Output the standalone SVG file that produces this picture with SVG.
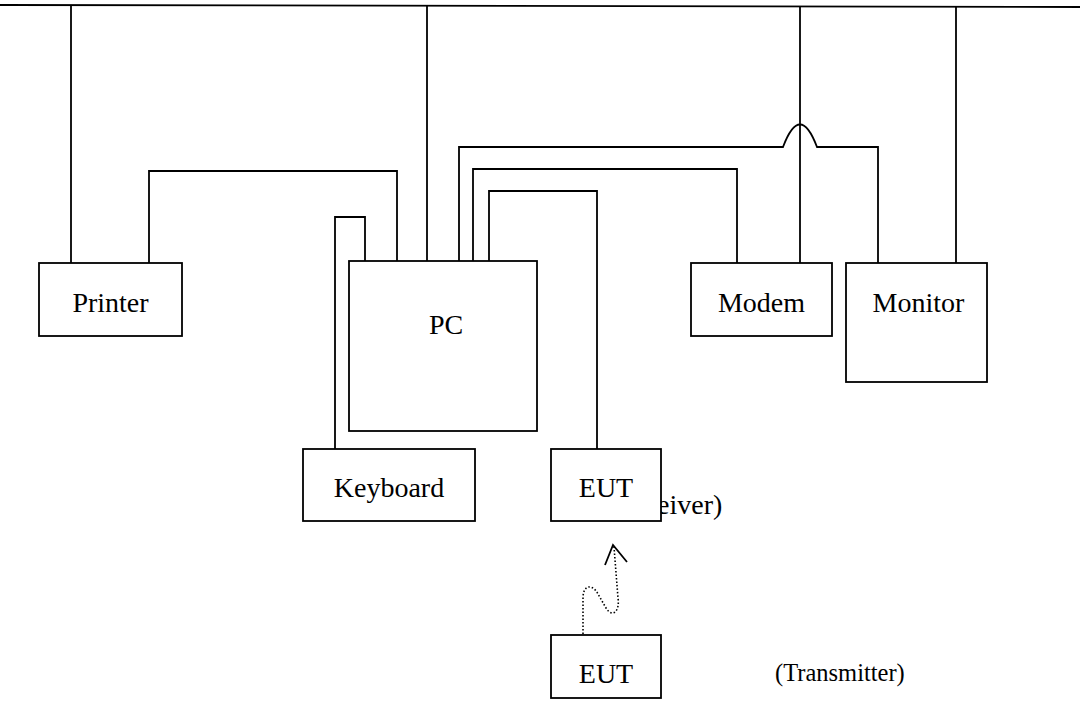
<svg xmlns="http://www.w3.org/2000/svg" width="1080" height="709" viewBox="0 0 1080 709">
<style>
.box{fill:#fff;stroke:#000;stroke-width:1.8}
.ln{fill:none;stroke:#000;stroke-width:1.8}
.lbl{font-family:"Liberation Serif","Times New Roman",serif;font-size:28px;fill:#000}
.dot{fill:none;stroke:#000;stroke-width:1.6;stroke-dasharray:1.5 2}
</style>
<rect width="1080" height="709" fill="#fff"/>
<g id="connectors">
<path class="ln" d="M0,5 L1080,7" stroke-width="2.8"/>
<path class="ln" d="M71,5.5 V263"/>
<path class="ln" d="M427,6 V261"/>
<path class="ln" d="M800,6.5 V263"/>
<path class="ln" d="M956,7 V263"/>
<path class="ln" d="M149,263 V171 H397 V263"/>
<path class="ln" d="M335,449 V217 H365 V263"/>
<path class="ln" d="M459,263 V147 H783 Q800,102 817,147 H878 V263"/>
<path class="ln" d="M473,261 V169 H737 V263"/>
<path class="ln" d="M489,261 V191 H597 V449"/>
<path class="dot" d="M583,634 L583,598 C583,584 593,584 598,594 L606,608 C612,618 620,612 618,598 L614,547"/>
<path class="ln" d="M605,565 L613,545 L627,562"/>
</g>
<text class="lbl" x="657" y="514">eiver)</text>
<g id="printer"><rect class="box" x="39" y="263" width="143" height="73"/><text class="lbl" x="110.5" y="312" text-anchor="middle">Printer</text></g>
<g id="pc"><rect class="box" x="349" y="261" width="188" height="170"/><text class="lbl" x="446" y="334" text-anchor="middle">PC</text></g>
<g id="modem"><rect class="box" x="691" y="263" width="141" height="73"/><text class="lbl" x="761.5" y="312" text-anchor="middle">Modem</text></g>
<g id="monitor"><rect class="box" x="846" y="263" width="141" height="119"/><text class="lbl" x="918.5" y="312" text-anchor="middle">Monitor</text></g>
<g id="keyboard"><rect class="box" x="303" y="449" width="172" height="72"/><text class="lbl" x="389" y="497" text-anchor="middle">Keyboard</text></g>
<g id="eut-rx"><rect class="box" x="551" y="449" width="110" height="72"/><text class="lbl" x="606" y="497" text-anchor="middle">EUT</text></g>
<g id="eut-tx"><rect class="box" x="551" y="635" width="110" height="63"/><text class="lbl" x="606" y="683" text-anchor="middle">EUT</text></g>
<text class="lbl" x="775" y="681" style="font-size:24.5px">(Transmitter)</text>
</svg>
